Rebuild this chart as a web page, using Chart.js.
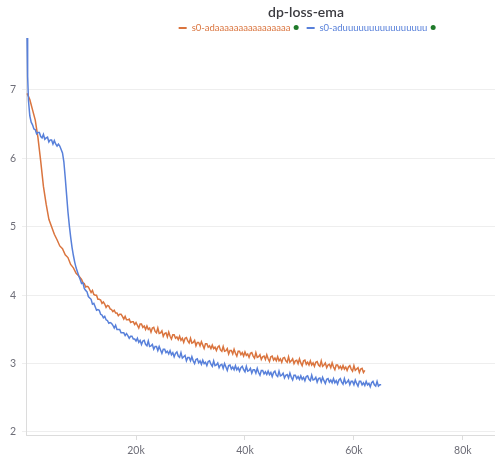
<!DOCTYPE html>
<html>
<head>
<meta charset="utf-8">
<script src="https://cdn.jsdelivr.net/npm/chart.js@4.4.1/dist/chart.umd.min.js"></script>
<style>
  html, body { margin: 0; padding: 0; background: #fff; }
  #wrap { position: relative; width: 495px; height: 466px; font-family: Lato, "Open Sans", sans-serif; }
  #title { position: absolute; top: 3px; left: 306px; transform: translateX(-50%); font-size: 14px; font-weight: 600; color: #3b3b40; white-space: nowrap; }
  #legend { position: absolute; top: 22px; left: 307px; transform: translateX(-50%); display: flex; align-items: center; font-size: 9.5px; white-space: nowrap; }
  .item { display: flex; align-items: center; margin: 0 4px; }
  .dash { width: 8px; height: 2px; margin-right: 5px; }
  .dot { width: 5px; height: 5px; border-radius: 50%; background: #1f7a2a; margin-left: 3px; }
  canvas { position: absolute; top: 0; left: 0; }
</style>
</head>
<body>
<div id="wrap">
  <canvas id="lossChart" width="495" height="466"></canvas>
  <div id="title">dp-loss-ema</div>
  <div id="legend"></div>
</div>
<script>
// series (x in thousands of steps)
const seriesNames = ['s0-adaaaaaaaaaaaaaaaa', 's0-aduuuuuuuuuuuuuuuu'];
const seriesColors = ['rgb(218,116,62)', 'rgb(88,128,218)'];

const orangeSteps = [
  0, 0.5, 1, 1.5, 2, 2.5, 3, 3.5, 4, 4.5, 5, 5.5, 6, 6.5, 7, 7.5, 8, 8.5, 9, 9.5,
  10, 10.25, 10.5, 10.75, 11, 11.25, 11.5, 11.75,
  12, 12.25, 12.5, 12.75, 13, 13.25, 13.5, 13.75,
  14, 14.25, 14.5, 14.75, 15, 15.25, 15.5, 15.75,
  16, 16.25, 16.5, 16.75, 17, 17.25, 17.5, 17.75,
  18, 18.25, 18.5, 18.75, 19, 19.25, 19.5, 19.75,
  20, 20.25, 20.5, 20.75, 21, 21.25, 21.5, 21.75,
  22, 22.25, 22.5, 22.75, 23, 23.25, 23.5, 23.75,
  24, 24.25, 24.5, 24.75, 25, 25.25, 25.5, 25.75,
  26, 26.25, 26.5, 26.75, 27, 27.25, 27.5, 27.75,
  28, 28.25, 28.5, 28.75, 29, 29.25, 29.5, 29.75,
  30, 30.25, 30.5, 30.75, 31, 31.25, 31.5, 31.75,
  32, 32.25, 32.5, 32.75, 33, 33.25, 33.5, 33.75,
  34, 34.25, 34.5, 34.75, 35, 35.25, 35.5, 35.75,
  36, 36.25, 36.5, 36.75, 37, 37.25, 37.5, 37.75,
  38, 38.25, 38.5, 38.75, 39, 39.25, 39.5, 39.75,
  40, 40.25, 40.5, 40.75, 41, 41.25, 41.5, 41.75,
  42, 42.25, 42.5, 42.75, 43, 43.25, 43.5, 43.75,
  44, 44.25, 44.5, 44.75, 45, 45.25, 45.5, 45.75,
  46, 46.25, 46.5, 46.75, 47, 47.25, 47.5, 47.75,
  48, 48.25, 48.5, 48.75, 49, 49.25, 49.5, 49.75,
  50, 50.25, 50.5, 50.75, 51, 51.25, 51.5, 51.75,
  52, 52.25, 52.5, 52.75, 53, 53.25, 53.5, 53.75,
  54, 54.25, 54.5, 54.75, 55, 55.25, 55.5, 55.75,
  56, 56.25, 56.5, 56.75, 57, 57.25, 57.5, 57.75,
  58, 58.25, 58.5, 58.75, 59, 59.25, 59.5, 59.75,
  60, 60.25, 60.5, 60.75, 61, 61.25, 61.5, 61.75,
  62
];
const orangeLoss = [
  6.95, 6.86, 6.71, 6.56, 6.30, 5.96, 5.59, 5.33, 5.11, 5.00,
  4.89, 4.81, 4.72, 4.68, 4.59, 4.55, 4.45, 4.40, 4.32, 4.28,
  4.23, 4.18, 4.17, 4.12, 4.13, 4.12, 4.08, 4.04,
  4.07, 4.01, 4.00, 4.00, 3.94, 3.94, 3.93, 3.88,
  3.90, 3.87, 3.82, 3.85, 3.84, 3.80, 3.79, 3.76,
  3.78, 3.74, 3.74, 3.70, 3.72, 3.72, 3.69, 3.65,
  3.69, 3.64, 3.64, 3.65, 3.60, 3.61, 3.61, 3.57,
  3.60, 3.56, 3.52, 3.58, 3.58, 3.53, 3.55, 3.50,
  3.55, 3.50, 3.52, 3.46, 3.52, 3.53, 3.47, 3.45,
  3.52, 3.44, 3.45, 3.48, 3.40, 3.44, 3.45, 3.39,
  3.46, 3.40, 3.36, 3.42, 3.42, 3.37, 3.39, 3.35,
  3.40, 3.34, 3.37, 3.31, 3.37, 3.38, 3.33, 3.30,
  3.37, 3.30, 3.31, 3.34, 3.26, 3.31, 3.31, 3.26,
  3.32, 3.27, 3.22, 3.29, 3.29, 3.24, 3.26, 3.22,
  3.27, 3.22, 3.24, 3.19, 3.24, 3.26, 3.20, 3.18,
  3.25, 3.18, 3.19, 3.22, 3.14, 3.19, 3.19, 3.14,
  3.21, 3.15, 3.11, 3.18, 3.18, 3.13, 3.16, 3.11,
  3.17, 3.12, 3.14, 3.09, 3.15, 3.16, 3.11, 3.08,
  3.16, 3.09, 3.10, 3.13, 3.06, 3.10, 3.11, 3.06,
  3.13, 3.07, 3.03, 3.10, 3.11, 3.05, 3.08, 3.04,
  3.10, 3.04, 3.07, 3.02, 3.08, 3.09, 3.04, 3.02,
  3.10, 3.02, 3.04, 3.07, 3.00, 3.04, 3.05, 3.00,
  3.07, 3.01, 2.97, 3.04, 3.05, 2.99, 3.02, 2.98,
  3.04, 2.98, 3.01, 2.96, 3.02, 3.03, 2.98, 2.96,
  3.04, 2.96, 2.98, 3.01, 2.94, 2.98, 2.99, 2.94,
  3.01, 2.95, 2.91, 2.98, 2.98, 2.93, 2.96, 2.92,
  2.97, 2.92, 2.95, 2.90, 2.95, 2.97, 2.92, 2.89,
  2.97, 2.90, 2.92, 2.94, 2.87, 2.92, 2.93, 2.87,
  2.90
];

const blueSteps = [
  0, 0.1, 0.25, 0.5, 0.75,
  1, 1.25, 1.5, 1.75, 2, 2.25, 2.5, 2.75,
  3, 3.25, 3.5, 3.75, 4, 4.25, 4.5, 4.75,
  5, 5.25, 5.5, 5.75, 6, 6.25, 6.5, 6.75,
  7, 7.25, 7.5, 7.75, 8, 8.25, 8.5, 8.75,
  9, 9.25, 9.5, 9.75,
  10, 10.25, 10.5, 10.75, 11, 11.25, 11.5, 11.75,
  12, 12.25, 12.5, 12.75, 13, 13.25, 13.5, 13.75,
  14, 14.25, 14.5, 14.75, 15, 15.25, 15.5, 15.75,
  16, 16.25, 16.5, 16.75, 17, 17.25, 17.5, 17.75,
  18, 18.25, 18.5, 18.75, 19, 19.25, 19.5, 19.75,
  20, 20.25, 20.5, 20.75, 21, 21.25, 21.5, 21.75,
  22, 22.25, 22.5, 22.75, 23, 23.25, 23.5, 23.75,
  24, 24.25, 24.5, 24.75, 25, 25.25, 25.5, 25.75,
  26, 26.25, 26.5, 26.75, 27, 27.25, 27.5, 27.75,
  28, 28.25, 28.5, 28.75, 29, 29.25, 29.5, 29.75,
  30, 30.25, 30.5, 30.75, 31, 31.25, 31.5, 31.75,
  32, 32.25, 32.5, 32.75, 33, 33.25, 33.5, 33.75,
  34, 34.25, 34.5, 34.75, 35, 35.25, 35.5, 35.75,
  36, 36.25, 36.5, 36.75, 37, 37.25, 37.5, 37.75,
  38, 38.25, 38.5, 38.75, 39, 39.25, 39.5, 39.75,
  40, 40.25, 40.5, 40.75, 41, 41.25, 41.5, 41.75,
  42, 42.25, 42.5, 42.75, 43, 43.25, 43.5, 43.75,
  44, 44.25, 44.5, 44.75, 45, 45.25, 45.5, 45.75,
  46, 46.25, 46.5, 46.75, 47, 47.25, 47.5, 47.75,
  48, 48.25, 48.5, 48.75, 49, 49.25, 49.5, 49.75,
  50, 50.25, 50.5, 50.75, 51, 51.25, 51.5, 51.75,
  52, 52.25, 52.5, 52.75, 53, 53.25, 53.5, 53.75,
  54, 54.25, 54.5, 54.75, 55, 55.25, 55.5, 55.75,
  56, 56.25, 56.5, 56.75, 57, 57.25, 57.5, 57.75,
  58, 58.25, 58.5, 58.75, 59, 59.25, 59.5, 59.75,
  60, 60.25, 60.5, 60.75, 61, 61.25, 61.5, 61.75,
  62, 62.25, 62.5, 62.75, 63, 63.25, 63.5, 63.75,
  64, 64.25, 64.5, 64.75, 65
];
const blueLoss = [
  7.76, 7.20, 6.85, 6.62, 6.53,
  6.49, 6.43, 6.42, 6.36, 6.38, 6.38, 6.32, 6.30,
  6.35, 6.28, 6.30, 6.31, 6.24, 6.27, 6.27, 6.21,
  6.26, 6.21, 6.18, 6.21, 6.18, 6.13, 6.08, 5.95,
  5.72, 5.47, 5.22, 5.02, 4.85, 4.70, 4.58, 4.48,
  4.40, 4.34, 4.28, 4.23,
  4.17, 4.18, 4.10, 4.07, 4.05, 3.98, 3.96, 3.94,
  3.87, 3.88, 3.83, 3.78, 3.79, 3.78, 3.72, 3.71,
  3.67, 3.69, 3.64, 3.63, 3.59, 3.60, 3.59, 3.56,
  3.52, 3.56, 3.50, 3.50, 3.50, 3.45, 3.45, 3.45,
  3.41, 3.44, 3.41, 3.37, 3.40, 3.40, 3.36, 3.36,
  3.33, 3.37, 3.31, 3.34, 3.28, 3.33, 3.34, 3.28,
  3.26, 3.33, 3.25, 3.26, 3.28, 3.21, 3.25, 3.25,
  3.19, 3.25, 3.20, 3.15, 3.21, 3.21, 3.16, 3.18,
  3.14, 3.19, 3.13, 3.16, 3.10, 3.15, 3.17, 3.11,
  3.09, 3.16, 3.08, 3.10, 3.12, 3.04, 3.09, 3.09,
  3.04, 3.10, 3.04, 3.00, 3.06, 3.07, 3.01, 3.04,
  2.99, 3.05, 3.00, 3.02, 2.97, 3.03, 3.04, 2.99,
  2.96, 3.04, 2.97, 2.98, 3.01, 2.94, 2.98, 2.99,
  2.93, 3.00, 2.95, 2.90, 2.97, 2.98, 2.92, 2.95,
  2.91, 2.97, 2.91, 2.94, 2.89, 2.94, 2.96, 2.91,
  2.88, 2.96, 2.89, 2.90, 2.93, 2.86, 2.91, 2.91,
  2.86, 2.93, 2.87, 2.83, 2.90, 2.90, 2.85, 2.88,
  2.84, 2.89, 2.84, 2.87, 2.81, 2.87, 2.89, 2.83,
  2.81, 2.89, 2.82, 2.83, 2.86, 2.79, 2.83, 2.84,
  2.79, 2.86, 2.80, 2.76, 2.83, 2.83, 2.78, 2.81,
  2.77, 2.82, 2.77, 2.80, 2.75, 2.81, 2.82, 2.77,
  2.75, 2.83, 2.76, 2.77, 2.80, 2.73, 2.78, 2.79,
  2.73, 2.80, 2.75, 2.71, 2.77, 2.78, 2.73, 2.76,
  2.72, 2.78, 2.72, 2.75, 2.70, 2.76, 2.78, 2.73,
  2.70, 2.78, 2.71, 2.73, 2.76, 2.69, 2.74, 2.74,
  2.69, 2.76, 2.71, 2.67, 2.74, 2.74, 2.69, 2.72,
  2.68, 2.74, 2.69, 2.71, 2.66, 2.72, 2.74, 2.69,
  2.67, 2.74, 2.67, 2.69, 2.69
];

const xTicks = [20, 40, 60, 80];   // shown as 20k ... 80k
const yTicks = [2, 3, 4, 5, 6, 7];

function toPoints(steps, values) {
  return steps.map((s, i) => ({ x: s, y: values[i] }));
}

// legend in html (series text + little green run dot)
const legendEl = document.getElementById('legend');
seriesNames.forEach((name, i) => {
  const item = document.createElement('div');
  item.className = 'item';
  item.innerHTML = '<span class="dash" style="background:' + seriesColors[i] + '"></span>' +
    '<span style="color:' + seriesColors[i] + '">' + name + '</span><span class="dot"></span>';
  legendEl.appendChild(item);
});

const tickFont = { family: 'Lato, "Open Sans", sans-serif', size: 10.5 };

new Chart(document.getElementById('lossChart'), {
  type: 'line',
  data: {
    datasets: [
      {
        label: seriesNames[1],
        data: toPoints(blueSteps, blueLoss),
        borderColor: seriesColors[1],
        borderWidth: 1.5,
        pointRadius: 0,
        tension: 0
      },
      {
        label: seriesNames[0],
        data: toPoints(orangeSteps, orangeLoss),
        borderColor: seriesColors[0],
        borderWidth: 1.5,
        pointRadius: 0,
        tension: 0
      }
    ]
  },
  options: {
    responsive: false,
    animation: false,
    layout: { padding: { top: 38, left: 0, right: 0, bottom: 0 } },
    plugins: {
      legend: { display: false },
      title: { display: false },
      tooltip: { enabled: false }
    },
    scales: {
      x: {
        type: 'linear',
        min: -0.2,
        max: 85.9,
        afterFit: scale => { scale.height = 31; },
        afterBuildTicks: scale => { scale.ticks = xTicks.map(v => ({ value: v })); },
        ticks: {
          color: '#6e6e78',
          font: tickFont,
          padding: 4,
          maxRotation: 0,
          callback: v => v + 'k'
        },
        grid: { drawOnChartArea: false, tickLength: 5, color: '#dcdcdc' },
        border: { color: '#dcdcdc' }
      },
      y: {
        min: 1.956,
        max: 7.76,
        afterFit: scale => { scale.width = 26; },
        afterBuildTicks: scale => { scale.ticks = yTicks.map(v => ({ value: v })); },
        ticks: {
          color: '#6e6e78',
          font: tickFont,
          padding: 6
        },
        grid: { color: '#eeeeee', tickLength: 4 },
        border: { color: '#dcdcdc' }
      }
    }
  }
});
</script>
</body>
</html>
